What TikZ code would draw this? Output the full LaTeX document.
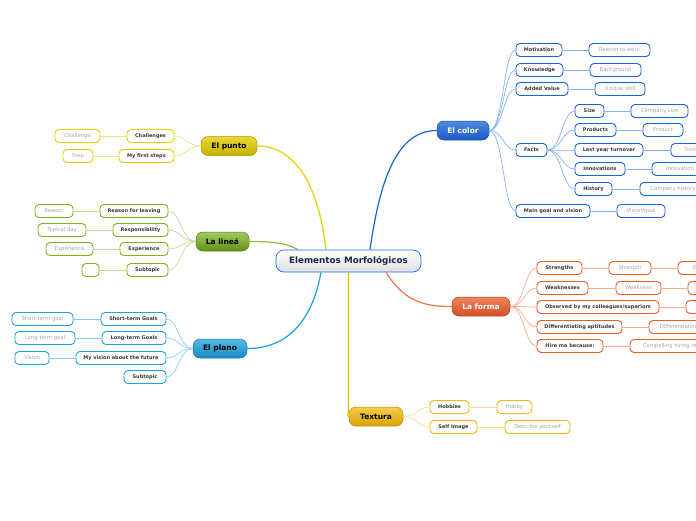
\documentclass[tikz,border=0pt]{standalone}
\usepackage{fontspec}
\setmainfont{DejaVu Sans}
\definecolor{blueB}{HTML}{1A64D6}
\definecolor{blueL}{HTML}{86B4F0}
\definecolor{orB}{HTML}{EE5A2A}
\definecolor{orL}{HTML}{F8AC90}
\definecolor{txB}{HTML}{F5B800}
\definecolor{txL}{HTML}{FADB90}
\definecolor{ptB}{HTML}{E6D000}
\definecolor{ptL}{HTML}{F0E37E}
\definecolor{lnB}{HTML}{7BB51A}
\definecolor{lnL}{HTML}{C0DC8E}
\definecolor{plB}{HTML}{1BA3E0}
\definecolor{plL}{HTML}{8CCEF2}
\definecolor{navy}{HTML}{1B2A4E}
\newcommand\smallF{\fontsize{5}{6}\selectfont}
\newcommand\leafF{\fontsize{5.3}{6}\selectfont}
\newcommand\topF{\fontsize{7.5}{9}\selectfont\bfseries}
\newcommand\fanR[3]{\draw[#1,line width=0.7pt] (#2.east) .. controls +(14,0) and +(-12,0) .. (#3.west);}
\newcommand\fanL[3]{\draw[#1,line width=0.7pt] (#2.west) .. controls +(-14,0) and +(12,0) .. (#3.east);}
\newcommand\lnR[3]{\draw[#1,line width=1pt] (#2.east) -- (#3.west);}
\newcommand\lnL[3]{\draw[#1,line width=1pt] (#2.west) -- (#3.east);}
\tikzset{
  sub/.style={draw=#1, line width=0.9pt, rounded corners=4pt, fill=white, font=\smallF\bfseries, text=black!78, minimum height=13pt, inner sep=0pt},
  leaf/.style={draw=#1, line width=0.9pt, rounded corners=4pt, fill=white, font=\leafF, text=black!35, minimum height=13pt, inner sep=0pt},
  topic/.style 2 args={rounded corners=7pt, minimum height=19pt, inner sep=0pt, top color=#1, bottom color=#2, draw=#2!85!black, line width=0.5pt, font=\topF},
  rootline/.style={line width=1.2pt}
}
\begin{document}
\begin{tikzpicture}[x=1pt,y={(0pt,-1pt)}]
\clip (0,0) rectangle (696,520);
\fill[white] (0,0) rectangle (696,520);
% root
\node[rounded corners=8pt, minimum width=145pt, minimum height=22pt, inner sep=0pt, top color=white, bottom color=black!5!blue!3!gray!25, draw=plB!70!blue, line width=0.7pt, font=\fontsize{8.8}{10}\selectfont\bfseries, text=navy] (root) at (348.5,261) {Elementos Morfológicos};
% topics
\node[topic={blueB!75!white}{blueB!90!black}, minimum width=52pt, text=white] (color) at (463,130.5) {El color};
\node[topic={ptB!80!white}{ptB!85!black}, minimum width=56pt, text=black] (punto) at (229,146) {El punto};
\node[topic={lnB!70!white}{lnB!80!black}, minimum width=53pt, text=black] (linea) at (222.5,241.5) {La lineá};
\node[topic={plB!75!white}{plB!85!black}, minimum width=54pt, text=black] (plano) at (220,348.5) {El plano};
\node[topic={orB!75!white}{orB!88!black}, minimum width=58pt, text=white] (forma) at (481,306.5) {La forma};
\node[topic={txB!70!white}{txB!88!black}, minimum width=54pt, text=black] (textura) at (376,416.5) {Textura};
% root connectors
\draw[rootline, blueB] ([xshift=21.5pt]root.north) .. controls +(10,-70) and +(-40,0) .. (color.west);
\draw[rootline, ptB] ([xshift=-22.5pt]root.north) .. controls +(-8,-70) and +(35,0) .. (punto.east);
\draw[rootline, lnB!85!white] ([xshift=-50.5pt]root.north) .. controls +(-12,-7) and +(22,0) .. (linea.east);
\draw[rootline, plB] ([xshift=-27.5pt]root.south) .. controls +(-10,55) and +(35,0) .. (plano.east);
\draw[rootline, orB!85!white] ([xshift=37.5pt]root.south) .. controls +(18,28) and +(-30,0) .. (forma.west);
\draw[rootline, txB] (root.south) -- ++(0,136) .. controls +(0,5) and +(-2,0) .. (textura.west);
% El color
\node[sub=blueB, minimum width=46pt] (mot) at (539,50) {Motivation};
\node[sub=blueB, minimum width=47pt] (know) at (539.5,70) {Knowledge};
\node[sub=blueB, minimum width=52pt] (added) at (542,89) {Added Value};
\node[sub=blueB, minimum width=31pt] (facts) at (531.5,150) {Facts};
\node[sub=blueB, minimum width=74pt] (goal) at (553,211) {Main goal and vision};
\node[sub=blueB, minimum width=29pt] (size) at (589.5,111) {Size};
\node[sub=blueB, minimum width=41pt] (prod) at (595.5,130) {Products};
\node[sub=blueB, minimum width=68pt] (turn) at (609,150) {Last year turnover};
\node[sub=blueB, minimum width=50pt] (innov) at (600,169) {Innovations};
\node[sub=blueB, minimum width=37pt] (hist) at (593.5,189) {History};
\node[leaf=blueB, minimum width=61pt] (motL) at (619.5,50) {Reason to work};
\node[leaf=blueB, minimum width=51pt] (knowL) at (615.5,70) {Background};
\node[leaf=blueB, minimum width=50pt] (addedL) at (620,89) {Unique skill};
\node[leaf=blueB, minimum width=57pt] (sizeL) at (659.5,111) {Company size};
\node[leaf=blueB, minimum width=40pt] (prodL) at (663,130) {Product};
\node[leaf=blueB, minimum width=50pt] (turnL) at (696,150) {Turnover};
\node[leaf=blueB, minimum width=56pt] (innovL) at (680,169) {Innovation};
\node[leaf=blueB, minimum width=66pt] (histL) at (673,189) {Company history};
\node[leaf=blueB, minimum width=48pt] (goalL) at (641,211) {Vision/goal};
\fanR{blueL}{color}{mot}\fanR{blueL}{color}{know}\fanR{blueL}{color}{added}
\fanR{blueL}{color}{facts}\fanR{blueL}{color}{goal}
\fanR{blueL}{facts}{size}\fanR{blueL}{facts}{prod}\fanR{blueL}{facts}{turn}
\fanR{blueL}{facts}{innov}\fanR{blueL}{facts}{hist}
\lnR{blueL}{mot}{motL}\lnR{blueL}{know}{knowL}\lnR{blueL}{added}{addedL}
\lnR{blueL}{size}{sizeL}\lnR{blueL}{prod}{prodL}\lnR{blueL}{turn}{turnL}
\lnR{blueL}{innov}{innovL}\lnR{blueL}{hist}{histL}\lnR{blueL}{goal}{goalL}
% La forma
\node[sub=orB, minimum width=45pt] (str) at (559.5,268) {Strengths};
\node[sub=orB, minimum width=51pt] (weak) at (562.5,288) {Weaknesses};
\node[sub=orB, minimum width=122pt] (obs) at (598,307) {Observed by my colleagues/superiors};
\node[sub=orB, minimum width=85pt] (diff) at (579.5,327) {Differentiating aptitudes};
\node[sub=orB, minimum width=66pt] (hire) at (570,346) {Hire me because:};
\node[leaf=orB, minimum width=42pt] (strL) at (630,268) {Strength};
\node[leaf=orB, minimum width=60pt] (strLL) at (708,268) {Experience};
\node[leaf=orB, minimum width=45pt] (weakL) at (638.5,288) {Weakness};
\node[leaf=orB, minimum width=50pt] (weakLL) at (713,288) {Example};
\node[leaf=orB, minimum width=50pt] (obsL) at (711,307) {Opinion};
\node[leaf=orB, minimum width=84pt] (diffL) at (691,327) {Differentiating aptitude};
\node[leaf=orB, minimum width=92pt] (hireL) at (676,346) {Compelling hiring reason};
\fanR{orL}{forma}{str}\fanR{orL}{forma}{weak}\fanR{orL}{forma}{obs}
\fanR{orL}{forma}{diff}\fanR{orL}{forma}{hire}
\lnR{orL}{str}{strL}\lnR{orL}{strL}{strLL}\lnR{orL}{weak}{weakL}\lnR{orL}{weakL}{weakLL}
\lnR{orL}{obs}{obsL}\lnR{orL}{diff}{diffL}\lnR{orL}{hire}{hireL}
% Textura
\node[sub=txB, minimum width=39pt] (hob) at (449.5,407) {Hobbies};
\node[sub=txB, minimum width=47pt] (self) at (453.5,427) {Self Image};
\node[leaf=txB, minimum width=35pt] (hobL) at (514.5,407) {Hobby};
\node[leaf=txB, minimum width=65pt] (selfL) at (537.5,427) {Describe yourself};
\fanR{txL}{textura}{hob}\fanR{txL}{textura}{self}
\lnR{txL}{hob}{hobL}\lnR{txL}{self}{selfL}
% El punto
\node[sub=ptB, minimum width=47pt] (chal) at (150.5,136) {Challenges};
\node[sub=ptB, minimum width=55pt] (first) at (146.5,156) {My first steps};
\node[leaf=ptB, minimum width=45pt] (chalL) at (77.5,136) {Challenge};
\node[leaf=ptB, minimum width=30pt] (firstL) at (78,156) {Step};
\fanL{ptL}{punto}{chal}\fanL{ptL}{punto}{first}
\lnL{ptL}{chal}{chalL}\lnL{ptL}{first}{firstL}
% La linea
\node[sub=lnB, minimum width=68pt] (reas) at (134,211) {Reason for leaving};
\node[sub=lnB, minimum width=55pt] (resp) at (140.5,230) {Responsibility};
\node[sub=lnB, minimum width=48pt] (expe) at (144,249) {Experience};
\node[sub=lnB, minimum width=41pt] (subl) at (147.5,270) {Subtopic};
\node[leaf=lnB, minimum width=38pt] (reasL) at (54,211) {Reason};
\node[leaf=lnB, minimum width=48pt] (respL) at (62,230) {Typical day};
\node[leaf=lnB, minimum width=47pt] (expeL) at (69.5,249) {Experience};
\node[leaf=lnB, minimum width=17pt] (sublL) at (90.5,270) {};
\fanL{lnL}{linea}{reas}\fanL{lnL}{linea}{resp}\fanL{lnL}{linea}{expe}\fanL{lnL}{linea}{subl}
\lnL{lnL}{reas}{reasL}\lnL{lnL}{resp}{respL}\lnL{lnL}{expe}{expeL}\lnL{lnL}{subl}{sublL}
% El plano
\node[sub=plB, minimum width=65pt] (sg) at (133.5,319) {Short-term Goals};
\node[sub=plB, minimum width=64pt] (lg) at (134,338) {Long-term Goals};
\node[sub=plB, minimum width=90pt] (vis) at (121,358) {My vision about the future};
\node[sub=plB, minimum width=42pt] (subp) at (145,377) {Subtopic};
\node[leaf=plB, minimum width=61pt] (sgL) at (42.5,319) {Short-term goal};
\node[leaf=plB, minimum width=60pt] (lgL) at (45,338) {Long-term goal};
\node[leaf=plB, minimum width=34pt] (visL) at (32,358) {Vision};
\fanL{plL}{plano}{sg}\fanL{plL}{plano}{lg}\fanL{plL}{plano}{vis}\fanL{plL}{plano}{subp}
\lnL{plL}{sg}{sgL}\lnL{plL}{lg}{lgL}\lnL{plL}{vis}{visL}
\end{tikzpicture}
\end{document}
